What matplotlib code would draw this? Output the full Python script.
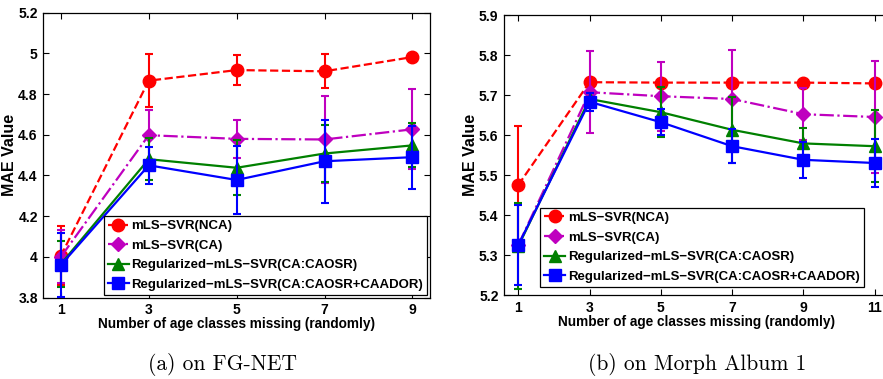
import matplotlib
matplotlib.use("Agg")
import matplotlib.pyplot as plt
import numpy as np

plt.rcParams['font.family'] = ['Liberation Sans', 'DejaVu Sans']
plt.rcParams['font.weight'] = 'bold'

# ---------------- data ----------------
labels = ["mLS\u2212SVR(NCA)", "mLS\u2212SVR(CA)",
          "Regularized\u2212mLS\u2212SVR(CA:CAOSR)",
          "Regularized\u2212mLS\u2212SVR(CA:CAOSR+CAADOR)"]

x_fg = [1, 3, 5, 7, 9]
fg_nca = [4.005, 4.866, 4.918, 4.912, 4.982]
fg_nca_err = [0.145, 0.13, 0.075, 0.083, 0.0]
fg_ca = [4.0, 4.598, 4.58, 4.577, 4.627]
fg_ca_err = [0.13, 0.125, 0.095, 0.215, 0.197]
fg_caosr = [3.965, 4.48, 4.438, 4.508, 4.548]
fg_caosr_err = [0.115, 0.103, 0.135, 0.142, 0.108]
fg_caador = [3.96, 4.45, 4.378, 4.47, 4.49]
fg_caador_err = [0.155, 0.09, 0.167, 0.205, 0.155]

x_mo = [1, 3, 5, 7, 9, 11]
mo_nca = [5.475, 5.732, 5.731, 5.731, 5.731, 5.729]
mo_nca_err = [0.148, 0.0, 0.0, 0.0, 0.0, 0.0]
mo_ca = [5.325, 5.707, 5.697, 5.69, 5.652, 5.645]
mo_ca_err = [0.0, 0.102, 0.086, 0.122, 0.065, 0.14]
mo_caosr = [5.322, 5.69, 5.657, 5.613, 5.579, 5.572]
mo_caosr_err = [0.108, 0.015, 0.063, 0.082, 0.038, 0.09]
mo_caador = [5.325, 5.683, 5.632, 5.572, 5.538, 5.53]
mo_caador_err = [0.1, 0.022, 0.033, 0.043, 0.045, 0.06]

colors = ['#ff0000', '#bf00bf', '#008000', '#0000ff']
styles = ['--', '-.', '-', '-']
markers = ['o', 'D', '^', 's']
msizes = [9, 7, 9, 8]

FS = 9.5

fig = plt.figure(figsize=(8.83, 3.79), dpi=100)

def draw(ax, xs, series, errs, ylim, yticks, xlim, xticks):
    for i, (ys, es) in enumerate(zip(series, errs)):
        ax.errorbar(xs, ys, yerr=es, color=colors[i], ecolor=colors[i],
                    elinewidth=1.5, capsize=3, capthick=1.5, fmt='none', zorder=2 + i)
        ax.plot(xs, ys, linestyle=styles[i], color=colors[i], lw=1.6,
                marker=markers[i], markersize=msizes[i],
                markerfacecolor=colors[i], markeredgecolor=colors[i],
                label=labels[i], zorder=2.5 + i)
    ax.set_ylim(*ylim)
    ax.set_xlim(*xlim)
    ax.set_yticks(yticks)
    ax.set_yticklabels([('%g' % t) for t in yticks])
    ax.set_xticks(xticks)
    ax.tick_params(direction='in', top=True, right=True, labelsize=FS + 0.5,
                   length=4, width=0.8, pad=4)
    for lab in ax.get_xticklabels() + ax.get_yticklabels():
        lab.set_fontweight('bold')
    for sp in ax.spines.values():
        sp.set_linewidth(0.9)
    ax.set_xlabel("Number of age classes missing (randomly)", fontsize=FS + 0.3,
                  fontweight='bold', labelpad=0)
    ax.set_ylabel("MAE Value", fontsize=11.5, fontweight='bold', labelpad=1)

legkw = dict(prop={'weight': 'bold', 'size': FS},
             handlelength=1.6, handletextpad=0.2, labelspacing=0.56,
             borderpad=0.3, borderaxespad=0, fancybox=False,
             edgecolor='black', framealpha=1)

ax1 = fig.add_axes([0.049, 0.2148, 0.438, 0.7517])
draw(ax1, x_fg, [fg_nca, fg_ca, fg_caosr, fg_caador],
     [fg_nca_err, fg_ca_err, fg_caosr_err, fg_caador_err],
     (3.8, 5.2), [3.8, 4.0, 4.2, 4.4, 4.6, 4.8, 5.0, 5.2], (0.6, 9.4), x_fg)
leg1 = ax1.legend(loc='lower right', bbox_to_anchor=(0.993, 0.009), **legkw)
leg1.get_frame().set_linewidth(0.9)
leg1.set_zorder(20)

ax2 = fig.add_axes([0.5708, 0.2216, 0.436, 0.7388])
draw(ax2, x_mo, [mo_nca, mo_ca, mo_caosr, mo_caador],
     [mo_nca_err, mo_ca_err, mo_caosr_err, mo_caador_err],
     (5.2, 5.9), [5.2, 5.3, 5.4, 5.5, 5.6, 5.7, 5.8, 5.9], (0.6, 11.4), x_mo)
leg2 = ax2.legend(loc='lower left', bbox_to_anchor=(0.094, 0.029), **legkw)
leg2.get_frame().set_linewidth(0.9)
leg2.set_zorder(20)

fig.text(222 / 883, 1 - 364 / 379, "(a) on FG-NET", family=['cmr10', 'DejaVu Serif'],
         fontsize=15.5, ha='center', va='center', fontweight='normal')
fig.text(697 / 883, 1 - 365 / 379, "(b) on Morph Album 1", family=['cmr10', 'DejaVu Serif'],
         fontsize=15.5, ha='center', va='center', fontweight='normal')

fig.savefig("out.png", dpi=100)
